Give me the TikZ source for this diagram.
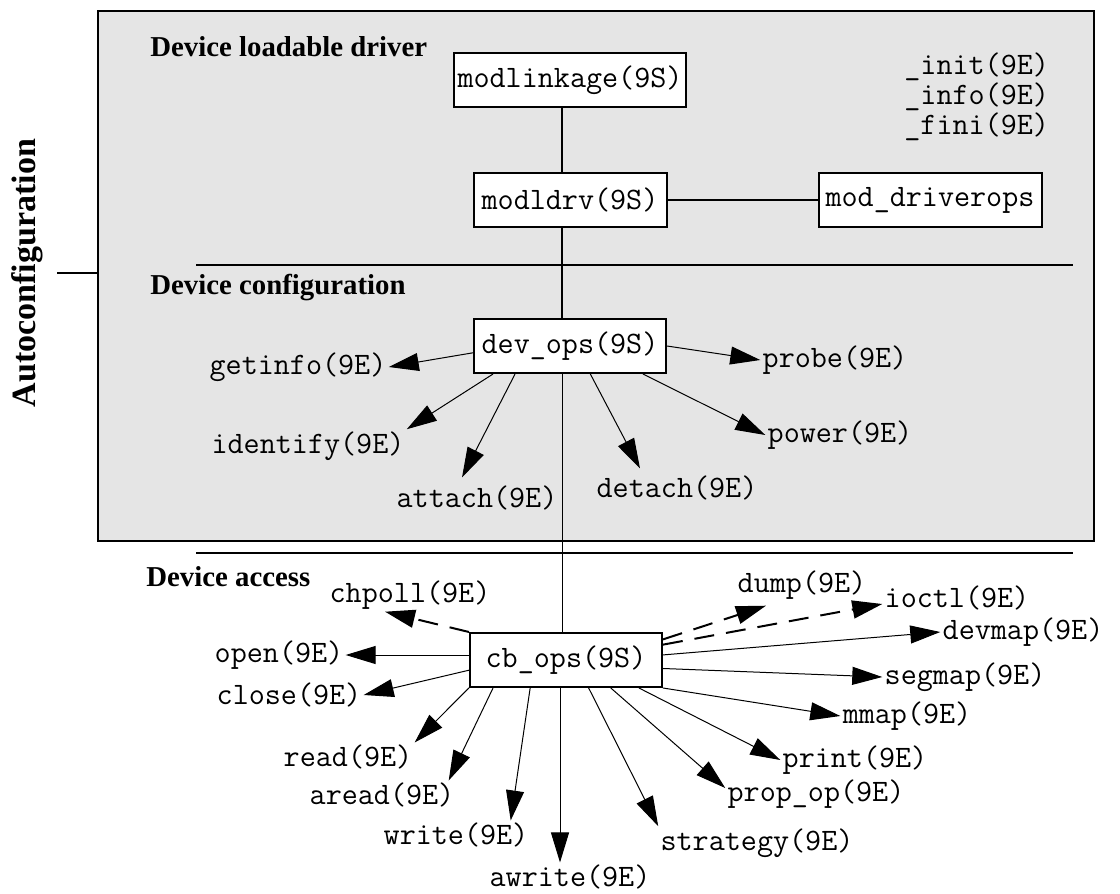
\documentclass[tikz,border=0pt]{standalone}
\usepackage{fontspec}
\setmainfont{Liberation Serif}
\usetikzlibrary{arrows.meta}
\definecolor{bggray}{RGB}{229,229,229}
\newcommand\lblfont{\ttfamily\fontsize{15.6}{18}\selectfont}
\newcommand\hdfont{\bfseries\fontsize{14.4}{17}\selectfont}

\begin{document}
\begin{tikzpicture}[x=0.5pt,y=-0.5pt,
  box/.style={draw,line width=1pt,fill=white,font=\lblfont,inner xsep=2pt,minimum height=27pt},
  lbl/.style={font=\lblfont,inner sep=1pt},
  hd/.style={font=\hdfont,anchor=base west,inner sep=0pt},
  arr/.style={line width=.5pt,-{Triangle[length=15pt,width=9pt]}},
  darr/.style={line width=1pt,dash pattern=on 10pt off 6pt,-{Triangle[length=15pt,width=9pt]}}]
\useasboundingbox (0,0) rectangle (1120,894);
\node[draw,line width=1pt,fill=bggray,minimum width=498pt,minimum height=265pt,inner sep=0pt] (panel) at (596,276) {};
\node[rotate=90,font=\bfseries\fontsize{17}{20}\selectfont,inner sep=0pt] (autocfg) at (27,273) {Autoconfiguration};
\draw[line width=1pt] (panel.west |- autocfg.center) -- ++(-40,0);
\draw[line width=1pt] (196,265) -- (1073,265);
\draw[line width=1pt] (196,553) -- (1073,553);
\node[hd] (loadhd) at (150,56) {Device loadable driver};
\node[hd] (confhd) at (150,294) {Device configuration};
\node[hd] (accesshd) at (146,586) {Device access};
\node[box,minimum width=116pt] (modlinkage) at (570,80) {modlinkage(9S)};
\node[box,minimum width=96.5pt] (modldrv) at (570,200) {modldrv(9S)};
\node[box,minimum width=111.5pt] (driverops) at (930,200) {mod\_driverops};
\node[box,minimum width=96pt] (devops) at (570,346) {dev\_ops(9S)};
\node[box,minimum width=96pt] (cbops) at (566,660) {cb\_ops(9S)};
\node[lbl,font=\ttfamily\fontsize{15.6}{13.5}\selectfont,align=left,anchor=west,inner sep=0pt] (modentry) at (904,97) {\_init(9E)\\\_info(9E)\\\_fini(9E)};
\draw[line width=1pt] ([xshift=-4pt]modlinkage.south) -- ([xshift=-4pt]modldrv.north);
\draw[line width=1pt] (modldrv.east) -- (driverops.west);
\draw[line width=1pt] ([xshift=-4pt]modldrv.south) -- ([xshift=-4pt]devops.north);
\draw[line width=.5pt] ([xshift=-4pt]devops.south) -- ([xshift=-4pt]devops.south |- cbops.north);
\node[lbl] (getinfo) at (298,367) {getinfo(9E)};
\node[lbl] (identify) at (308,446) {identify(9E)};
\node[lbl] (attach) at (477,498) {attach(9E)};
\node[lbl] (detach) at (677,488) {detach(9E)};
\node[lbl] (power) at (840,435) {power(9E)};
\node[lbl] (probe) at (835,360) {probe(9E)};
\begin{scope}[arr]
\draw (devops.184) -- (getinfo.east);
\draw (devops.200) -- (identify.north east);
\draw (devops.207) -- ([xshift=-7.5pt,yshift=3pt]attach.north);
\draw (devops.306) -- ([xshift=-18.5pt,yshift=2.5pt]detach.north);
\draw (devops.339) -- (power.west);
\draw (devops.east) -- (probe.west);
\end{scope}
\node[lbl] (chpoll) at (410,595) {chpoll(9E)};
\node[lbl] (open) at (279,655) {open(9E)};
\node[lbl] (close) at (289,695) {close(9E)};
\node[lbl] (read) at (348,757) {read(9E)};
\node[lbl] (aread) at (382,795) {aread(9E)};
\node[lbl] (write) at (456,835) {write(9E)};
\node[lbl] (awrite) at (570,877) {awrite(9E)};
\node[lbl] (strategy) at (757,843) {strategy(9E)};
\node[lbl] (propop) at (816,794) {prop\_op(9E)};
\node[lbl] (print) at (855,760) {print(9E)};
\node[lbl] (mmap) at (907,716) {mmap(9E)};
\node[lbl] (segmap) at (965,677) {segmap(9E)};
\node[lbl] (devmap) at (1023,632) {devmap(9E)};
\node[lbl] (ioctl) at (957,598) {ioctl(9E)};
\node[lbl] (dump) at (802,585) {dump(9E)};
\begin{scope}[arr]
\draw (cbops.west |- open) -- (open.east);
\draw (cbops.186) -- (close.east);
\draw (cbops.196) -- (read.north east);
\draw (cbops.201) -- ([xshift=-4pt]aread.north east);
\draw (cbops.218) -- ([xshift=-10pt]write.north east);
\draw ([xshift=-3pt]cbops.south) -- ([xshift=-3pt]cbops.south |- awrite.north);
\draw (cbops.309) -- (strategy.north west);
\draw (cbops.328) -- ([yshift=3pt]propop.west);
\draw (cbops.339) -- (print.west);
\draw (cbops.south east) -- (mmap.west);
\draw (cbops.355) -- (segmap.west);
\draw (cbops.3) -- (devmap.west);
\end{scope}
\begin{scope}[darr]
\draw (cbops.north west) -- ([xshift=-12.5pt]chpoll.south);
\draw (cbops.12) -- ([xshift=-18pt,yshift=-2pt]dump.south);
\draw (cbops.9) -- ([yshift=-3pt]ioctl.west);
\end{scope}
\end{tikzpicture}
\end{document}
